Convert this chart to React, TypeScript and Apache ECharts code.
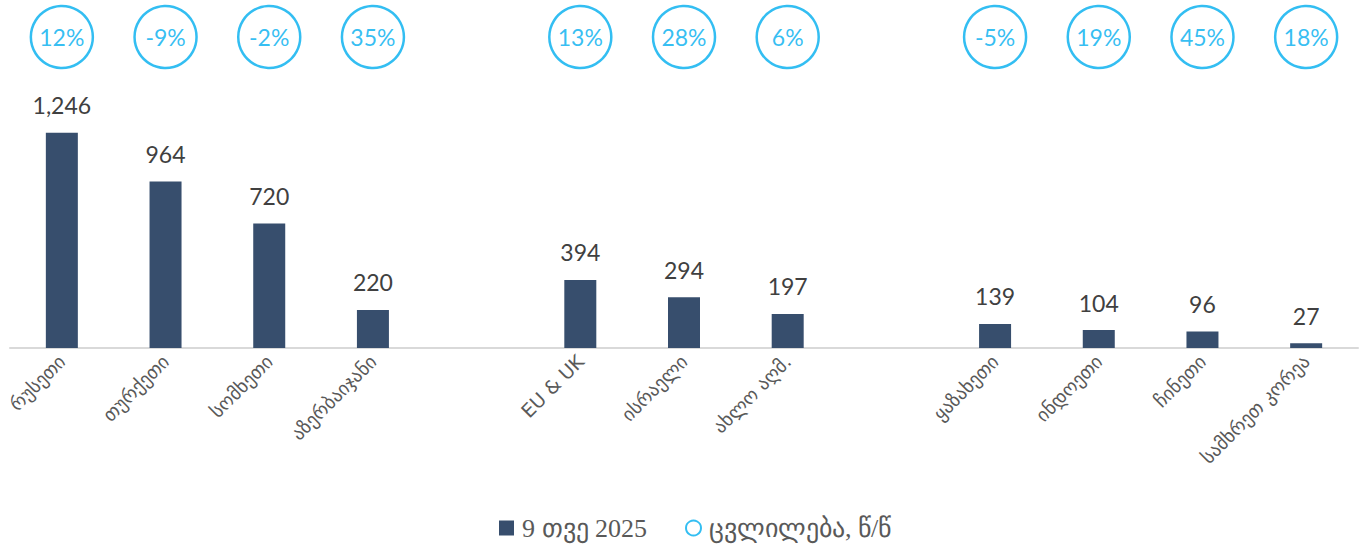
import React, { useEffect, useRef } from "react";
import * as echarts from "echarts";

const categories = [
  "რუსეთი",
  "თურქეთი",
  "სომხეთი",
  "აზერბაიჯანი",
  "",
  "EU & UK",
  "ისრაელი",
  "ახლო აღმ.",
  "",
  "ყაზახეთი",
  "ინდოეთი",
  "ჩინეთი",
  "სამხრეთ კორეა",
];

const values: (number | null)[] = [1246, 964, 720, 220, null, 394, 294, 197, null, 139, 104, 96, 27];
const changes: (number | null)[] = [12, -9, -2, 35, null, 13, 28, 6, null, -5, 19, 45, 18];

const barName = "9 თვე 2025";
const changeName = "ცვლილება, წ/წ";

export default function App() {
  const ref = useRef<HTMLDivElement>(null);
  useEffect(() => {
    document.body.style.margin = "0";
    const chart = echarts.init(ref.current!, null, { renderer: "svg" });
    const numFont = "Lato, 'DejaVu Sans', sans-serif";
    chart.setOption({
      animation: false,
      grid: { left: 10, right: 3, top: 37, bottom: 204, containLabel: false },
      legend: {
        bottom: 6,
        left: 494,
        itemWidth: 15,
        itemHeight: 15,
        itemGap: 38,
        textStyle: {
          fontFamily: "'Liberation Serif', serif",
          fontSize: 26,
          color: "#595959",
          padding: [0, 0, 0, 3],
        },
        data: [
          { name: barName, icon: "rect" },
          { name: changeName, icon: "circle" },
        ],
      },
      xAxis: {
        type: "category",
        data: categories,
        axisLine: { lineStyle: { color: "#D9D9D9", width: 2 } },
        axisTick: { show: false },
        axisLabel: {
          interval: 0,
          rotate: 45,
          margin: 10,
          fontSize: 19,
          color: "#595959",
          fontFamily: "'DejaVu Sans', sans-serif",
        },
      },
      yAxis: [
        { type: "value", min: 0, max: 1800, show: false, splitLine: { show: false } },
        { type: "value", min: 0, max: 1, show: false, splitLine: { show: false } },
      ],
      series: [
        {
          name: barName,
          type: "bar",
          barWidth: 32,
          data: values.map((v) => (v == null ? "-" : v)),
          itemStyle: { color: "#374E6D" },
          label: {
            show: true,
            position: "top",
            distance: 16,
            fontSize: 23,
            color: "#404040",
            fontFamily: numFont,
            formatter: (p: any) => Number(p.value).toLocaleString("en-US"),
          },
        },
        {
          name: changeName,
          type: "scatter",
          yAxisIndex: 1,
          symbol: "circle",
          symbolSize: 62,
          data: changes.map((c) => (c == null ? "-" : 1)),
          itemStyle: { color: "#FFFFFF", borderColor: "#00AEEF", borderWidth: 2.5 },
          label: {
            show: true,
            position: "inside",
            fontSize: 23,
            color: "#00AEEF",
            fontFamily: numFont,
            formatter: (p: any) => `${changes[p.dataIndex]}%`,
          },
        },
      ],
    });
    return () => chart.dispose();
  }, []);
  return <div ref={ref} style={{ width: 1361, height: 552 }} />;
}
